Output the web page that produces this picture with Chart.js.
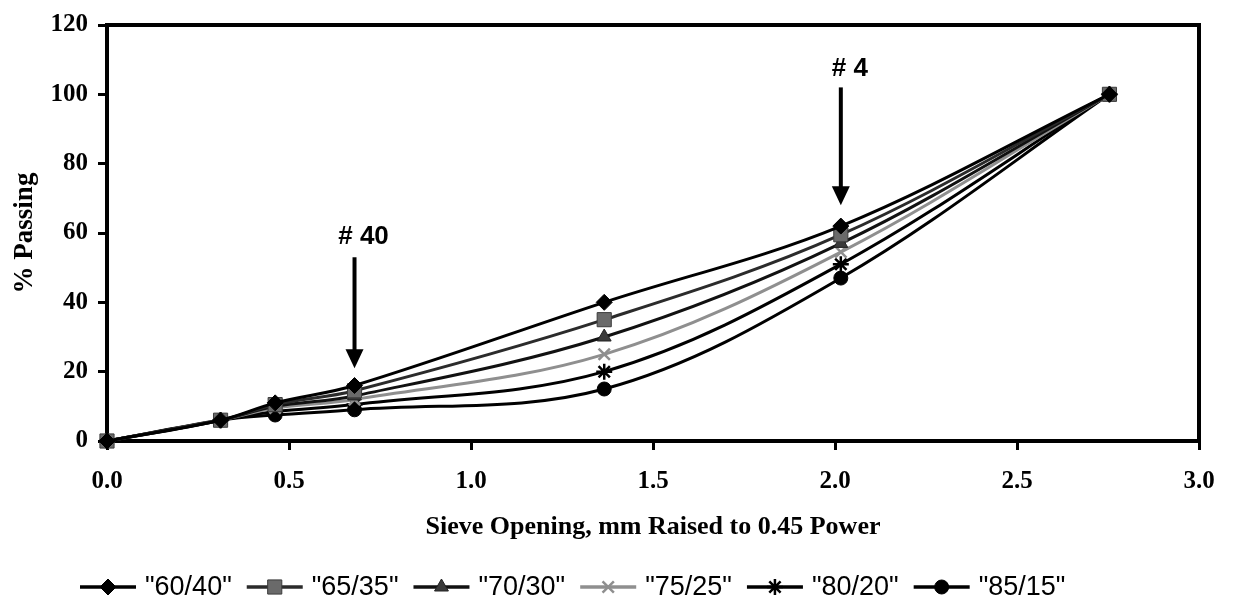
<!DOCTYPE html>
<html>
<head>
<meta charset="utf-8">
<script src="https://cdn.jsdelivr.net/npm/chart.js@4.4.1/dist/chart.umd.min.js"></script>
<style>
  html, body { margin: 0; padding: 0; background: #fff; }
  #wrap { width: 1235px; height: 602px; }
</style>
</head>
<body>
<div id="wrap"><canvas id="gradation"></canvas></div>
<script>
// sieve opening (mm) raised to 0.45 power: pan, #200, #80, #40, #10, #4, 3/8"
const sieveX = [0, 0.312, 0.462, 0.680, 1.366, 2.016, 2.754];

const blendNames = ['"60/40"', '"65/35"', '"70/30"', '"75/25"', '"80/20"', '"85/15"'];

// % passing for each blend
const pass6040 = [0, 6, 11, 16, 40, 62, 100];
const pass6535 = [0, 6, 10.5, 14.5, 35, 59.5, 100];
const pass7030 = [0, 6, 10, 13, 30, 57, 100];
const pass7525 = [0, 6, 9.5, 12, 25, 54.5, 100];
const pass8020 = [0, 6, 8.5, 10.5, 20, 51, 100];
const pass8515 = [0, 6, 7.5, 9, 15, 47, 100];

// labelled sieves with arrows
const sieveMarkText = ['# 40', '# 4'];
const sieveMarkX = [0.680, 2.016];

const allPassing = [pass6040, pass6535, pass7030, pass7525, pass8020, pass8515];

const seriesStyle = [
  { pointStyle: 'rectRot', line: '#000', fill: '#000', border: '#000', radius: 8, bw: 1 },
  { pointStyle: 'rect', line: '#2b2b2b', fill: '#6a6a6a', border: '#3c3c3c', radius: 10, bw: 1 },
  { pointStyle: 'triangle', line: '#111', fill: '#3a3a3a', border: '#222', radius: 8, bw: 1 },
  { pointStyle: 'crossRot', line: '#8f8f8f', fill: '#8f8f8f', border: '#8f8f8f', radius: 8, bw: 2.5 },
  { pointStyle: 'star', line: '#000', fill: '#000', border: '#000', radius: 8, bw: 2.5 },
  { pointStyle: 'circle', line: '#000', fill: '#000', border: '#000', radius: 7, bw: 1 }
];

const datasets = blendNames.map((name, i) => ({
  label: name,
  data: sieveX.map((x, j) => ({ x: x, y: allPassing[i][j] })),
  borderColor: seriesStyle[i].line,
  borderWidth: 3,
  backgroundColor: seriesStyle[i].fill,
  pointStyle: seriesStyle[i].pointStyle,
  pointRadius: seriesStyle[i].radius,
  pointHoverRadius: seriesStyle[i].radius,
  pointBackgroundColor: seriesStyle[i].fill,
  pointBorderColor: seriesStyle[i].border,
  pointBorderWidth: seriesStyle[i].bw,
  tension: 0.35,
  fill: false,
  clip: false
}));

// thick frame round the plot area
const frame = {
  id: 'frame',
  beforeDatasetsDraw(chart) {
    const { ctx, chartArea: a } = chart;
    ctx.save();
    ctx.lineWidth = 4;
    ctx.strokeStyle = '#000';
    ctx.strokeRect(a.left, a.top, a.right - a.left, a.bottom - a.top);
    ctx.restore();
  }
};

// "# 40" and "# 4" arrows
const sieveArrows = {
  id: 'sieveArrows',
  afterDatasetsDraw(chart) {
    const { ctx, scales: { x, y } } = chart;
    const ends = [[53, 21, 59], [102, 68, 107.5]]; // shaft top, tip, label (in % passing)
    ctx.save();
    ctx.fillStyle = '#000';
    ctx.strokeStyle = '#000';
    sieveMarkText.forEach((txt, i) => {
      const px = x.getPixelForValue(sieveMarkX[i]);
      const top = y.getPixelForValue(ends[i][0]);
      const tip = y.getPixelForValue(ends[i][1]);
      const ly = y.getPixelForValue(ends[i][2]);
      ctx.lineWidth = 4;
      ctx.beginPath();
      ctx.moveTo(px, top);
      ctx.lineTo(px, tip - 14);
      ctx.stroke();
      ctx.beginPath();
      ctx.moveTo(px - 9, tip - 19);
      ctx.lineTo(px + 9, tip - 19);
      ctx.lineTo(px, tip);
      ctx.closePath();
      ctx.fill();
      ctx.font = 'bold 26px "Liberation Sans", Arial, sans-serif';
      ctx.textAlign = 'center';
      ctx.textBaseline = 'middle';
      ctx.fillText(txt, px + 9, ly);
    });
    ctx.restore();
  }
};

// legend row under the axis title: line with marker, then name
const legendRow = {
  id: 'legendRow',
  afterDraw(chart) {
    const ctx = chart.ctx;
    const cy = 587;
    let lx = 80;
    ctx.save();
    ctx.font = '27px "Liberation Sans", Arial, sans-serif';
    ctx.textBaseline = 'middle';
    ctx.textAlign = 'left';
    chart.data.datasets.forEach((ds) => {
      ctx.strokeStyle = ds.borderColor;
      ctx.lineWidth = 3.5;
      ctx.beginPath();
      ctx.moveTo(lx, cy);
      ctx.lineTo(lx + 56, cy);
      ctx.stroke();
      ctx.fillStyle = ds.pointBackgroundColor;
      ctx.strokeStyle = ds.pointBorderColor;
      ctx.lineWidth = ds.pointBorderWidth;
      Chart.helpers.drawPoint(ctx, {
        pointStyle: ds.pointStyle,
        radius: ds.pointRadius,
        rotation: 0,
        borderWidth: ds.pointBorderWidth
      }, lx + 28, cy);
      ctx.fillStyle = '#000';
      ctx.fillText(ds.label, lx + 65, cy + 1);
      lx += 65 + ctx.measureText(ds.label).width + 15;
    });
    ctx.restore();
  }
};

const serif = '"Liberation Serif", "Times New Roman", serif';

new Chart(document.getElementById('gradation'), {
  type: 'line',
  data: { datasets: datasets },
  plugins: [frame, sieveArrows, legendRow],
  options: {
    responsive: true,
    maintainAspectRatio: false,
    animation: false,
    layout: { padding: { top: 20, right: 36, left: 0, bottom: 0 } },
    plugins: {
      legend: { display: false },
      tooltip: { enabled: false }
    },
    scales: {
      x: {
        type: 'linear',
        min: 0,
        max: 3,
        afterFit(scale) { scale.height = 161; },
        border: { display: false },
        grid: { drawOnChartArea: false, drawTicks: true, tickLength: 9, tickWidth: 3, tickColor: '#000' },
        ticks: {
          stepSize: 0.5,
          padding: 17,
          color: '#000',
          font: { family: serif, size: 25, weight: 'bold' },
          callback: (v) => v.toFixed(1)
        },
        title: {
          display: true,
          text: 'Sieve Opening, mm Raised to 0.45 Power',
          color: '#000',
          font: { family: serif, size: 26, weight: 'bold' },
          padding: { top: 4, bottom: 59 }
        }
      },
      y: {
        min: 0,
        max: 120,
        afterFit(scale) { scale.width = 107; },
        border: { display: false },
        grid: { drawOnChartArea: false, drawTicks: true, tickLength: 9, tickWidth: 3, tickColor: '#000' },
        ticks: {
          stepSize: 20,
          padding: 10,
          color: '#000',
          font: { family: serif, size: 25, weight: 'bold' }
        },
        title: {
          display: true,
          text: '% Passing',
          color: '#000',
          font: { family: serif, size: 27, weight: 'bold' },
          padding: { top: 9, bottom: 0 }
        }
      }
    }
  }
});
</script>
</body>
</html>
